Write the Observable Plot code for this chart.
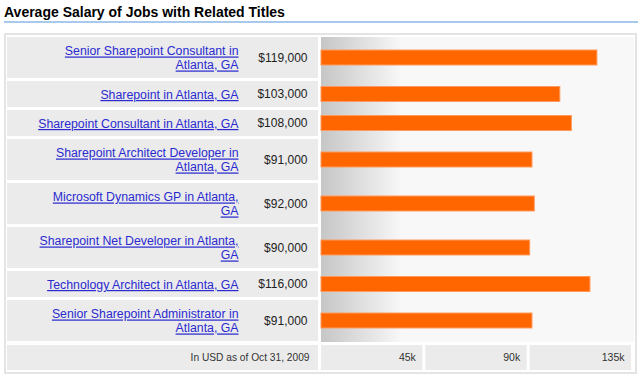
<!DOCTYPE html>
<html><head><meta charset="utf-8">
<script src="https://cdn.jsdelivr.net/npm/d3@7"></script>
<script src="https://cdn.jsdelivr.net/npm/@observablehq/plot@0.6"></script>
<style>
body{margin:0;background:#fff;font-family:"Liberation Sans",Arial,sans-serif;}
#title{position:absolute;left:4px;top:0;width:634px;height:17px;padding-top:4px;line-height:17px;border-bottom:2px solid #a8c9ec;font-weight:bold;font-size:14px;color:#000;white-space:nowrap;}
#panel{position:absolute;left:4px;top:33px;width:629px;height:337px;border:2px solid #e4e4e4;background:#fff;}
#panel svg g[fill="#2a2ad0"] text{text-decoration:underline;}
</style></head><body>
<div id="title"></div><div id="panel"></div>
<script>
const chartTitle = "Average Salary of Jobs with Related Titles";
const jobTitles = [
  "Senior Sharepoint Consultant in\nAtlanta, GA",
  "Sharepoint in Atlanta, GA",
  "Sharepoint Consultant in Atlanta, GA",
  "Sharepoint Architect Developer in\nAtlanta, GA",
  "Microsoft Dynamics GP in Atlanta,\nGA",
  "Sharepoint Net Developer in Atlanta,\nGA",
  "Technology Architect in Atlanta, GA",
  "Senior Sharepoint Administrator in\nAtlanta, GA"
];
const salaries = [119000, 103000, 108000, 91000, 92000, 90000, 116000, 91000];
const tickValues = [45000, 90000, 135000];
const tickLabels = ["45k", "90k", "135k"];
const note = "In USD as of Oct 31, 2009";

document.getElementById("title").textContent = chartTitle;

const fmt = d3.format("$,");
const GAP = 3, LINE = 15, PAD = 11, FOOT = 25;
let cursor = 0;
const rows = jobTitles.map((t, i) => {
  const lines = t.split("\n").length;
  const top = cursor, bottom = top + LINE * lines + PAD;
  cursor = bottom + GAP;
  return {title: t, salary: salaries[i], top, bottom, mid: (top + bottom) / 2};
});
const rowsEnd = rows[rows.length - 1].bottom + 1;
const footTop = rowsEnd + 3, footBottom = footTop + FOOT, footMid = (footTop + footBottom) / 2;

const W = 629, H = 337, ML = 315, MT = 2;

function areaBackground(index, scales) {
  const g = d3.create("svg:g");
  const grad = g.append("defs").append("linearGradient")
    .attr("id", "fade").attr("x1", 0).attr("x2", 1).attr("y1", 0).attr("y2", 0);
  grad.append("stop").attr("offset", 0).attr("stop-color", "#c6c6c6");
  grad.append("stop").attr("offset", 0.26).attr("stop-color", "#f8f8f8");
  const x0 = scales.x(0), x1 = scales.x(tickValues[tickValues.length - 1]);
  const y0 = scales.y(0), y1 = scales.y(rowsEnd);
  g.append("rect").attr("x", x0).attr("y", y0).attr("width", x1 - x0).attr("height", y1 - y0)
    .attr("fill", "url(#fade)");
  return g.node();
}

const chart = Plot.plot({
  width: W, height: H, marginLeft: ML, marginRight: 1, marginTop: MT, marginBottom: H - MT - rowsEnd,
  style: {fontFamily: "'Liberation Sans', Arial, sans-serif", background: "#fff", overflow: "visible"},
  x: {type: "linear", domain: [0, tickValues[tickValues.length - 1]], axis: null},
  y: {type: "linear", domain: [0, footBottom], range: [MT, MT + footBottom], axis: null},
  marks: [
    Plot.rect(rows, {y1: "top", y2: "bottom", fill: "#ebebeb", insetLeft: -314, insetRight: 316}),
    Plot.rect([note], {y1: () => footTop, y2: () => footBottom, fill: "#ebebeb", insetLeft: -314, insetRight: 316}),
    Plot.rect(tickValues, {x1: (d, i) => i ? tickValues[i - 1] : 0, x2: d => d, y1: () => footTop, y2: () => footBottom, fill: "#ebebeb", insetRight: 3}),
    areaBackground,
    Plot.rect(rows, {x1: () => 0, x2: "salary", y1: "mid", y2: "mid", insetTop: -7.5, insetBottom: -7.5, fill: "#ff6600", stroke: "#ff9a5c", strokeWidth: 1}),
    Plot.text(rows, {y: "mid", text: "title", frameAnchor: "left", dx: -83, textAnchor: "end", fontSize: 12.3, lineHeight: 14 / 12.3, fill: "#2a2ad0"}),
    Plot.text(rows, {y: "mid", text: d => fmt(d.salary), frameAnchor: "left", dx: -14, textAnchor: "end", fontSize: 12, fill: "#222"}),
    Plot.text([note], {y: () => footMid, text: d => d, frameAnchor: "left", dx: -12, textAnchor: "end", fontSize: 10.2, fill: "#333"}),
    Plot.text(tickValues, {x: d => d, y: () => footMid, text: (d, i) => tickLabels[i], dx: -10, textAnchor: "end", fontSize: 10.5, fill: "#333"})
  ]
});
document.getElementById("panel").appendChild(chart);
</script>
</body></html>
